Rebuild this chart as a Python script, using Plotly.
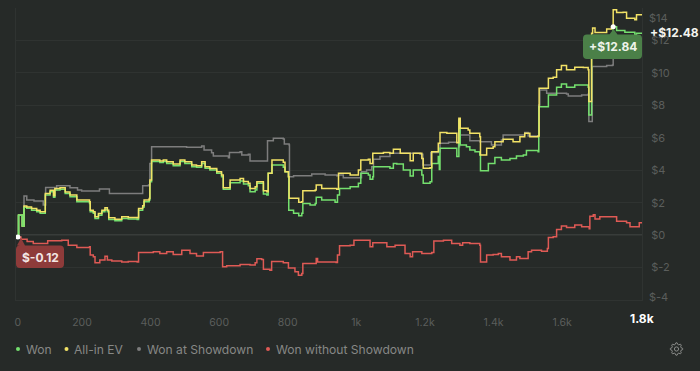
import math
import plotly.graph_objects as go

won_x = [13,15,25,26,31,39,53,68,78,90,93,107,117,121,136,151,165,185,222,224,233,238,248,258,267,274,278,296,316,335,361,365,377,381,396,398,403,418,427,437,447,466,486,500,520,534,549,559,573,593,607,612,622,632,661,671,685,690,705,710,724,729,739,743,753,754,787,792,802,803,817,832,841,844,865,880,883,899,938,945,951,982,1006,1013,1035,1040,1048,1050,1079,1098,1108,1118,1137,1157,1166,1191,1195,1215,1220,1239,1242,1244,1264,1293,1298,1299,1303,1321,1331,1346,1360,1362,1378,1385,1399,1404,1423,1448,1467,1487,1496,1530,1532,1557,1560,1574,1584,1598,1613,1637,1676,1678,1685,1686,1745,1749,1759,1783,1812,1817,1833]
won_y = [-0.12,1.23,1.23,0.56,1.71,1.65,1.54,1.44,1.34,1.34,2.47,2.67,2.33,2.78,2.82,2.57,2.37,2.06,1.95,1.44,1.34,1.03,1.23,1.44,1.58,1.44,0.97,0.88,1.03,0.99,0.97,1.54,1.71,2.06,2.16,3.29,4.53,4.53,4.47,4.53,4.42,4.28,4.53,4.42,4.22,4.18,4.42,4.12,4.01,3.81,3.60,2.82,2.82,3.23,3.33,3.15,3.05,2.67,2.78,3.19,3.19,2.53,2.47,3.81,3.81,4.32,4.18,3.91,3.60,1.54,1.34,1.19,1.34,1.95,1.85,1.95,2.33,2.16,2.02,2.47,2.88,2.98,3.19,3.81,3.70,3.44,3.60,4.22,4.22,4.12,4.42,4.38,4.01,3.64,4.01,3.70,3.19,3.29,4.42,4.84,4.05,5.35,5.35,4.84,4.84,7.10,5.56,5.45,5.25,5.14,4.94,3.97,3.97,4.42,4.42,4.79,4.63,4.73,4.88,4.94,5.21,5.14,7.92,7.92,8.64,8.64,9.12,9.32,9.12,9.26,9.12,7.41,7.41,12.30,12.30,12.84,12.61,12.51,12.35,12.45,12.48]

ev_x = [13,15,25,26,31,39,53,68,78,90,93,107,117,121,136,151,165,185,222,224,233,238,248,258,267,274,278,296,316,335,361,365,377,381,396,398,403,418,427,437,447,466,486,500,520,534,549,559,573,593,607,612,622,632,661,671,685,690,705,710,724,729,739,743,753,754,787,792,802,804,817,832,841,844,865,880,883,899,943,948,982,1006,1013,1035,1040,1048,1079,1098,1108,1128,1157,1166,1191,1195,1215,1220,1239,1244,1264,1293,1298,1299,1303,1326,1331,1346,1360,1362,1378,1380,1399,1404,1423,1428,1457,1477,1491,1506,1530,1533,1555,1560,1574,1584,1598,1613,1637,1662,1676,1678,1685,1686,1689,1696,1730,1744,1749,1759,1778,1788,1812,1817,1833]
ev_y = [-0.12,1.23,1.23,0.56,1.80,1.74,1.64,1.54,1.44,1.44,2.56,2.76,2.42,2.88,2.92,2.66,2.47,2.16,2.06,1.54,1.44,1.13,1.33,1.54,1.68,1.54,1.07,0.98,1.13,1.09,1.07,1.64,1.81,2.16,2.26,3.39,4.63,4.63,4.57,4.63,4.52,4.38,4.63,4.52,4.32,4.28,4.52,4.22,4.11,3.91,3.70,2.92,2.92,3.40,3.49,3.30,3.19,2.88,2.98,3.29,3.29,2.74,2.67,3.81,3.81,4.63,4.49,3.91,3.60,2.27,2.27,2.02,2.06,2.74,2.74,2.78,3.09,2.88,2.82,3.81,3.70,4.01,4.63,4.67,4.42,5.04,5.10,5.04,5.29,5.04,4.59,5.04,4.73,4.12,4.16,5.14,5.66,6.32,6.28,5.70,5.70,7.20,6.58,6.48,6.28,6.28,6.07,4.94,4.94,5.35,5.45,5.76,5.76,5.91,5.76,6.07,6.28,6.07,6.11,9.05,9.05,9.67,9.73,10.19,10.45,10.19,10.35,10.33,10.19,8.23,8.23,12.45,12.76,12.49,12.70,12.80,13.89,13.72,13.74,13.37,13.27,13.58,13.58]

sd_x = [13,15,25,26,31,39,60,87,94,115,121,126,155,165,180,187,199,248,251,277,280,367,377,394,398,403,505,549,556,578,583,627,630,661,666,685,690,739,741,758,787,790,804,805,817,865,870,904,909,943,948,962,1013,1015,1030,1045,1050,1069,1098,1186,1194,1215,1217,1239,1244,1269,1298,1301,1331,1360,1394,1399,1423,1428,1487,1491,1501,1530,1532,1535,1555,1613,1618,1657,1676,1678,1686,1688,1730,1747,1749,1833]
sd_y = [-0.12,1.23,1.23,0.56,2.41,2.16,2.10,1.85,2.94,2.94,2.78,3.05,3.05,2.92,2.92,2.78,2.72,2.72,2.84,2.84,2.57,2.57,3.05,3.09,4.42,5.45,5.41,5.49,5.25,5.08,4.88,4.77,5.10,5.14,4.94,4.98,4.57,4.57,5.82,5.97,5.93,5.62,5.56,3.60,3.66,3.66,3.77,3.77,3.70,3.66,3.70,3.54,3.54,3.91,4.01,4.22,4.67,4.84,5.04,4.98,4.32,4.32,5.10,5.14,5.66,5.72,5.45,6.17,5.82,5.76,5.56,5.56,5.86,6.17,6.17,6.32,6.11,6.11,8.02,8.95,8.74,8.70,8.58,8.64,8.68,7.00,7.00,10.39,10.45,10.49,11.69,11.68]

nsd_x = [13,22,40,58,100,118,141,160,185,222,224,233,238,252,267,274,287,316,335,361,365,389,408,427,447,466,491,515,534,549,554,603,610,622,632,661,690,705,710,724,729,748,753,787,802,821,831,841,844,880,883,887,941,945,951,982,993,1030,1040,1048,1059,1089,1113,1142,1157,1164,1191,1220,1226,1254,1278,1302,1310,1331,1360,1362,1378,1380,1399,1414,1423,1448,1467,1477,1501,1511,1540,1557,1560,1574,1584,1598,1613,1637,1657,1679,1681,1691,1696,1710,1749,1759,1788,1798,1822,1825,1833]
nsd_y = [-0.12,-0.25,-0.40,-0.51,-0.35,-0.35,-0.31,-0.62,-0.76,-0.72,-1.23,-1.34,-1.71,-1.54,-1.30,-1.54,-1.60,-1.65,-1.63,-1.65,-1.07,-1.07,-1.03,-1.13,-1.03,-1.19,-0.93,-1.13,-1.28,-1.28,-1.07,-1.03,-1.95,-1.89,-1.89,-1.81,-1.85,-1.71,-1.46,-1.50,-2.10,-2.16,-1.63,-1.71,-2.02,-2.26,-2.47,-2.37,-1.75,-1.75,-1.44,-1.65,-1.69,-1.23,-0.66,-0.62,-0.31,-0.31,-0.72,-0.47,-0.47,-0.72,-0.62,-1.13,-1.34,-1.03,-1.13,-1.07,-0.37,-0.31,-0.51,-0.62,-0.47,-0.51,-0.62,-1.65,-1.65,-1.23,-1.19,-1.13,-1.34,-1.54,-1.34,-1.44,-1.03,-0.93,-0.99,-0.82,-0.14,-0.10,0.35,0.56,0.47,0.62,0.51,0.39,1.17,1.26,0.99,1.13,1.13,0.86,0.76,0.51,0.51,0.76,0.78]

x_ticks = [13,200,400,600,800,1000,1200,1400,1600]
x_labels = ["0","200","400","600","800","1k","1.2k","1.4k","1.6k"]
y_ticks = [-4,-2,0,2,4,6,8,10,12,14]
y_labels = ["","$-2","$0","$2","$4","$6","$8","$10","$12",""]
legend_names = ["Won","All-in EV","Won at Showdown","Won without Showdown"]
colors = ["#74e06e","#f2e266","#7d7d7d","#df5a55"]

BG = "#262a28"
W, H, L, R, T, B = 700, 371, 16, 642, 8, 300
FONT = "Inter, Liberation Sans, sans-serif"
TICK = "#5b5e5c"

def px(x): return (x - L) / (R - L)
def py(y): return (B - y) / (B - T)

fig = go.Figure()
series = list(zip([won_x, ev_x, sd_x, nsd_x], [won_y, ev_y, sd_y, nsd_y], legend_names, colors))
for i in (2, 0, 1, 3):
    xs, ys, name, c = series[i]
    fig.add_trace(go.Scatter(x=xs, y=ys, name=name, mode="lines",
                             line=dict(color=c, width=1.5, shape="hv"), showlegend=False))
# the first rise of Won is drawn over the other series, as in the reference
fig.add_trace(go.Scatter(x=won_x[:5], y=won_y[:5], mode="lines", showlegend=False,
                         line=dict(color=colors[0], width=1.5, shape="hv")))
fig.add_trace(go.Scatter(x=[13, 1749], y=[-0.12, 12.84], mode="markers", showlegend=False,
                         marker=dict(color="white", size=5), cliponaxis=False))

def bubble(x0, y0, x1, y1, tipx, tipy, color):
    r = 4
    pts = [("M", x0 + r, y0)]
    if tipy < y0:
        pts += [("L", tipx - 4, y0), ("L", tipx, tipy), ("L", tipx + 4, y0)]
    pts += [("L", x1 - r, y0), ("Q", x1, y0, x1, y0 + r), ("L", x1, y1 - r), ("Q", x1, y1, x1 - r, y1),
            ("L", x0 + r, y1), ("Q", x0, y1, x0, y1 - r), ("L", x0, y0 + r), ("Q", x0, y0, x0 + r, y0)]
    s = ""
    for p in pts:
        cmd = p[0]; vals = p[1:]
        s += cmd + " ".join(f"{px(vals[i]):.5f},{py(vals[i+1]):.5f}" for i in range(0, len(vals), 2)) + " "
    return dict(type="path", path=s + "Z", xref="paper", yref="paper", fillcolor=color,
                line=dict(width=0), layer="above")

shapes = [
    dict(type="line", xref="paper", yref="y", x0=0, x1=1, y0=0, y1=0, line=dict(color="#4b4e4c", width=1.2), layer="below"),
    bubble(583, 34.5, 642, 59, 613.5, 29, "#4b8048"),
    bubble(16, 245.5, 64, 268, 21, 238, "#8e3b3a"),
]

dot_x = [18, 66.5, 139, 268]
text_x = [23.5, 72, 144.5, 273.5]
leg_y = 349
for dx, c in zip(dot_x, colors):
    shapes.append(dict(type="circle", xref="paper", yref="paper", x0=px(dx-2), x1=px(dx+2),
                       y0=py(leg_y+2), y1=py(leg_y-2), fillcolor=c, line=dict(width=0)))

cx, cy = 676.5, 349
pts = []
n = 8
for i in range(n * 4):
    a = 2 * math.pi * i / (n * 4)
    rad = 6.2 if (i % 4 in (0, 1)) else 4.7
    pts.append((cx + rad * math.cos(a - 0.1), cy + rad * math.sin(a - 0.1)))
gear = "M" + " L".join(f"{px(a):.5f},{py(b):.5f}" for a, b in pts) + " Z"
shapes.append(dict(type="path", path=gear, xref="paper", yref="paper", line=dict(color="#8a8c8a", width=1)))
shapes.append(dict(type="circle", xref="paper", yref="paper", x0=px(cx-2.1), x1=px(cx+2.1),
                   y0=py(cy+2.1), y1=py(cy-2.1), line=dict(color="#8a8c8a", width=1)))

def note(x, y, text, color, size, anchor="left", bold=False):
    return dict(x=px(x), y=py(y), xref="paper", yref="paper", text=f"<b>{text}</b>" if bold else text,
                showarrow=False, xanchor=anchor, yanchor="middle",
                font=dict(color=color, size=size, family=FONT))

annotations = [note(tx, leg_y, n_, "#868886", 12.1) for tx, n_ in zip(text_x, legend_names)]
annotations += [
    note(647, 18, "$14", TICK, 11),
    note(647, 297, "$-4", TICK, 11),
    note(648, 32.5, "+$12.48", "#f4f4ee", 12, bold=True),
    note(642, 318, "1.8k", "#ffffff", 12, anchor="center", bold=True),
    note(612.5, 47, "+$12.84", "#eef3ea", 12, anchor="center", bold=True),
    note(40, 257, "$-0.12", "#f3e6e4", 12, anchor="center", bold=True),
]

fig.update_layout(
    width=W, height=H, autosize=False, paper_bgcolor=BG, plot_bgcolor=BG,
    margin=dict(l=L, r=W - R, t=T, b=H - B, pad=0),
    font=dict(family=FONT, color=TICK, size=11),
    hovermode=False, shapes=shapes, annotations=annotations,
    xaxis=dict(range=[7.6, 1833], tickmode="array", tickvals=x_ticks, ticktext=x_labels,
               showgrid=False, zeroline=False, ticks="outside", ticklen=12, tickcolor="rgba(0,0,0,0)",
               tickfont=dict(size=10.5, color=TICK), showline=True, linecolor="#2f3331", mirror=False, tickangle=0),
    yaxis=dict(range=[-4, 14], side="right", tickmode="array", tickvals=y_ticks, ticktext=y_labels,
               showgrid=True, gridcolor="#2f3331", gridwidth=1, zeroline=False, ticks="outside", ticklen=6,
               tickcolor="rgba(0,0,0,0)", tickfont=dict(size=11, color=TICK),
               showline=True, linecolor="#2f3331", mirror=True),
)
fig.write_html("out.html", config={"displayModeBar": False},
               post_script="document.body.style.margin='0';document.body.style.background='#262a28';document.documentElement.style.overflow='hidden';")
